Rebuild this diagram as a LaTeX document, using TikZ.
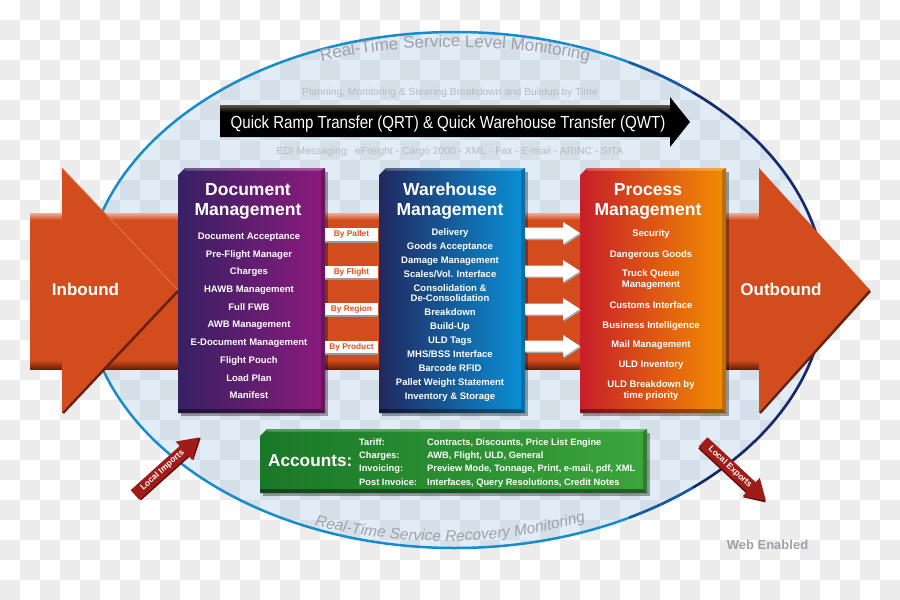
\documentclass[tikz,border=0pt]{standalone}
\usepackage{fontspec}
\usepackage{graphicx}
\setmainfont{Liberation Sans}
\usetikzlibrary{decorations.text}
\definecolor{checkgray}{RGB}{236,236,236}
\definecolor{ellblue}{RGB}{150,190,225}
\definecolor{ringblue}{RGB}{22,140,205}
\definecolor{ringnavy}{RGB}{30,40,105}
\definecolor{ringmid}{RGB}{26,90,160}
\definecolor{bandorange}{RGB}{211,76,30}
\definecolor{banddark}{RGB}{105,32,8}
\definecolor{docL}{RGB}{55,32,100}
\definecolor{docR}{RGB}{140,26,125}
\definecolor{whL}{RGB}{32,40,95}
\definecolor{whR}{RGB}{10,145,215}
\definecolor{prL}{RGB}{200,30,40}
\definecolor{prR}{RGB}{242,142,0}
\definecolor{accL}{RGB}{25,120,40}
\definecolor{accR}{RGB}{60,165,60}
\definecolor{bytext}{RGB}{225,80,30}
\definecolor{softgray}{RGB}{185,185,192}
\definecolor{curvegray}{RGB}{160,160,168}
\definecolor{webgray}{RGB}{160,160,168}
\definecolor{lred}{RGB}{160,28,24}
\definecolor{lreddark}{RGB}{95,10,10}
\definecolor{qrtbrown}{RGB}{100,84,74}
\tikzset{
 boxtitle/.style={text=white, font=\fontsize{17.5}{20}\selectfont\bfseries, inner sep=0, anchor=base},
 item/.style={text=white, font=\fontsize{9.5}{10.5}\selectfont\bfseries, inner sep=0, anchor=base},
 bylabel/.style={fill=white, text=bytext, font=\fontsize{8.3}{9}\selectfont\bfseries, minimum width=53pt, minimum height=12.5pt, inner sep=0},
 bigword/.style={text=white, font=\fontsize{17}{19}\selectfont\bfseries, inner sep=0, anchor=base},
 faint/.style={text=softgray, font=\fontsize{10.3}{12}\selectfont, inner sep=0, anchor=base},
 accitem/.style={text=white, font=\fontsize{9.3}{10}\selectfont\bfseries, inner sep=0, anchor=base west},
 localtext/.style={text=white, font=\fontsize{8.5}{9}\selectfont\bfseries, inner sep=0},
 ghost/.style={inner sep=0, draw=none},
}
% box: name, x1, y1, x2, y2, left colour, right colour
\newcommand\mybox[7]{%
  \fill[black,opacity=.35] (#2+3,#3+4) -- (#4+3,#3+4) -- (#4+3,#5+3) -- (#2+3,#5+3) -- cycle;
  \shade[left color=#6,right color=#7] (#2+7,#3) -- (#4,#3) -- (#4,#5) -- (#2,#5) -- (#2,#3+7) -- cycle;
  \fill[white,opacity=.25] (#2+7,#3) -- (#4,#3) -- (#4-4,#3+2.5) -- (#2+7,#3+2.5) -- cycle;
  \fill[black,opacity=.22] (#4-4,#3+2.5) -- (#4,#3) -- (#4,#5) -- (#4-4,#5-4) -- cycle;
  \fill[black,opacity=.4] (#2,#5-4) -- (#4-4,#5-4) -- (#4,#5) -- (#2,#5) -- cycle;
  \node[ghost, minimum width=#4-#2, minimum height=#5-#3] (#1) at ({(#2+#4)/2},{(#3+#5)/2}) {};
}
\newcommand\wharrow[1]{%
  \fill[black!35] (526,#1-4) -- (564,#1-4) -- (564,#1-9.5) -- (581,#1+1.5) -- (564,#1+12.5) -- (564,#1+7) -- (526,#1+7) -- cycle;
  \fill[white] (525,#1-5.5) -- (563,#1-5.5) -- (563,#1-11) -- (580,#1) -- (563,#1+11) -- (563,#1+5.5) -- (525,#1+5.5) -- cycle;
}
\begin{document}
\begin{tikzpicture}[x=1pt,y=-1pt]
\useasboundingbox (0,0) rectangle (900,600);
\fill[white] (0,0) rectangle (900,600);
\foreach \j in {0,...,29}{
  \pgfmathtruncatemacro{\off}{mod(\j,2)}
  \foreach \i in {0,...,22}{
    \fill[checkgray] ({(2*\i+1-\off)*20},{\j*20}) rectangle ++(20,20);
  }
}
% monitoring ellipse
\fill[ellblue,opacity=.28] (455,290) ellipse [x radius=370, y radius=258];
\draw[ringblue, line width=2.5pt] (455,290) ellipse [x radius=370, y radius=258];
\draw[ringmid, line width=2.5pt] (455,290) ++(-62:370 and 258) arc[start angle=-62, end angle=-50, x radius=370, y radius=258];
\draw[ringnavy, line width=2.5pt] (455,290) ++(-50:370 and 258) arc[start angle=-50, end angle=50, x radius=370, y radius=258];
\draw[ringmid, line width=2.5pt] (455,290) ++(50:370 and 258) arc[start angle=50, end angle=62, x radius=370, y radius=258];

% top texts
\path[decorate, decoration={text along path, text align=center, text color=curvegray,
  text={|\fontsize{17}{17}\selectfont|Real-Time Service Level Monitoring}}]
  (318,62) .. controls (400,42) and (510,42) .. (592,62);
\node[faint] (plan) at (450,95.5) {Planning, Monitoring \& Steering Breakdown and Buildup by Time};

% QRT arrow
\fill[black] (220,105) -- (670,105) -- (670,97) -- (690,122) -- (670,147) -- (670,137) -- (220,137) -- cycle;
\shade[top color=qrtbrown, bottom color=black] (220,105) rectangle (670,112);
\node[anchor=base, text=white, font=\fontsize{17.5}{18}\selectfont, inner sep=0] (qrt) at (448,128.3)
  {\scalebox{0.86}[1]{Quick Ramp Transfer (QRT) \& Quick Warehouse Transfer (QWT)}};
\node[faint] (edi) at (450,154) {EDI Messaging:\ \ eFreight - Cargo 2000 - XML - Fax - E-mail - ARINC - SITA};

% orange flow band
\fill[bandorange] (30,215) rectangle (760,368);
\shade[top color=bandorange!45!white, bottom color=bandorange] (30,213) rectangle (760,220);
\shade[top color=bandorange, bottom color=banddark] (30,360) rectangle (760,369);
\fill[bandorange] (62,168) -- (178,290) -- (62,412) -- cycle;
\draw[bandorange!75!white, line width=0.8pt] (62,168) -- (178,290);
\draw[banddark, line width=2.5pt] (178,291) -- (63,413);
\fill[bandorange] (759,168) -- (870,290) -- (759,412) -- cycle;
\draw[banddark, line width=2.5pt] (870,291) -- (760,413);
\node[bigword] (inbound) at (85.5,295) {Inbound};
\node[bigword] (outbound) at (781,295) {Outbound};

% management boxes
\mybox{doc}{178}{168}{325}{413}{docL}{docR}
\mybox{wh}{379}{168}{525}{413}{whL}{whR}
\mybox{proc}{580}{168}{726}{413}{prL}{prR}

\node[boxtitle] (doct1) at (248,195) {Document};
\node[boxtitle] (doct2) at (248,215) {Management};
\node[boxtitle] (wht1) at (450,195) {Warehouse};
\node[boxtitle] (wht2) at (450,215) {Management};
\node[boxtitle] (prt1) at (648,195) {Process};
\node[boxtitle] (prt2) at (648,215) {Management};

\foreach \y/\t [count=\k] in {239.5/Document Acceptance, 257/Pre-Flight Manager, 274.5/Charges,
  292/HAWB Management, 310/Full FWB, 327.5/AWB Management, 345.5/E-Document Management,
  363/Flight Pouch, 381/Load Plan, 398.5/Manifest}
  \node[item] (docitem\k) at (249,\y) {\t};

\foreach \y/\t [count=\k] in {235/Delivery, 249/Goods Acceptance, 263/Damage Management,
  277/{Scales/Vol. Interface}, 291.5/Consolidation \&, 301/De-Consolidation, 315/Breakdown,
  329/Build-Up, 343/ULD Tags, 357/{MHS/BSS Interface}, 371/Barcode RFID,
  385/Pallet Weight Statement, 399/Inventory \& Storage}
  \node[item] (whitem\k) at (450,\y) {\t};

\foreach \y/\t [count=\k] in {236.7/Security, 257.3/Dangerous Goods, 276.7/Truck Queue,
  287.7/Management, 308.3/Customs Interface, 328.3/Business Intelligence,
  347.7/Mail Management, 367.7/ULD Inventory, 387.7/ULD Breakdown by, 398.5/time priority}
  \node[item] (pritem\k) at (651,\y) {\t};

% by labels
\foreach \y/\t [count=\k] in {234.5/By Pallet, 272/By Flight, 309.2/By Region, 347/By Product}{
  \fill[black!40] (325,\y+6) rectangle (378,\y+8);
  \node[bylabel] (by\k) at (351.5,\y) {\t};
}
% white arrows
\wharrow{233}
\wharrow{271}
\wharrow{309}
\wharrow{346}

% accounts
\mybox{acc}{260}{429}{647}{493}{accL}{accR}
\node[anchor=base west, text=white, font=\fontsize{17.2}{18}\selectfont\bfseries, inner sep=0] (acct) at (268,466.7) {Accounts:};
\foreach \y/\l/\v [count=\k] in {445/Tariff:/{Contracts, Discounts, Price List Engine},
  458/Charges:/{AWB, Flight, ULD, General},
  471.5/Invoicing:/{Preview Mode, Tonnage, Print, e-mail, pdf, XML},
  485/Post Invoice:/{Interfaces, Query Resolutions, Credit Notes}}{
  \node[accitem] (accl\k) at (359,\y) {\l};
  \node[accitem] (accv\k) at (427,\y) {\v};
}

% bottom curved text
\path[decorate, decoration={text along path, text align=center, text color=curvegray,
  text={|\fontsize{15.5}{15.5}\selectfont\itshape|Real-Time Service Recovery Monitoring}}]
  (304,523) .. controls (400,548) and (500,548) .. (596,518);

% local imports / exports
\begin{scope}[shift={(135,495)}, rotate=42]
  \fill[lreddark] (1,-5) -- (67,-5) -- (67,-11) -- (87,1.5) -- (67,13) -- (67,8) -- (1,8) -- cycle;
  \fill[lred] (0,-6.5) -- (66,-6.5) -- (66,-12.5) -- (86,0) -- (66,12.5) -- (66,6.5) -- (0,6.5) -- cycle;
  \node[localtext, rotate=42] (limp) at (37,0) {Local Imports};
\end{scope}
\begin{scope}[shift={(703,442)}, rotate=-43]
  \fill[lreddark] (1,-5) -- (67,-5) -- (67,-11) -- (87,1.5) -- (67,13) -- (67,8) -- (1,8) -- cycle;
  \fill[lred] (0,-6.5) -- (66,-6.5) -- (66,-12.5) -- (86,0) -- (66,12.5) -- (66,6.5) -- (0,6.5) -- cycle;
  \node[localtext, rotate=-43] (lexp) at (37,0) {Local Exports};
\end{scope}

\node[anchor=base, text=webgray, font=\fontsize{13}{14}\selectfont\bfseries, inner sep=0] (web) at (767.5,549) {Web Enabled};
\end{tikzpicture}
\end{document}
